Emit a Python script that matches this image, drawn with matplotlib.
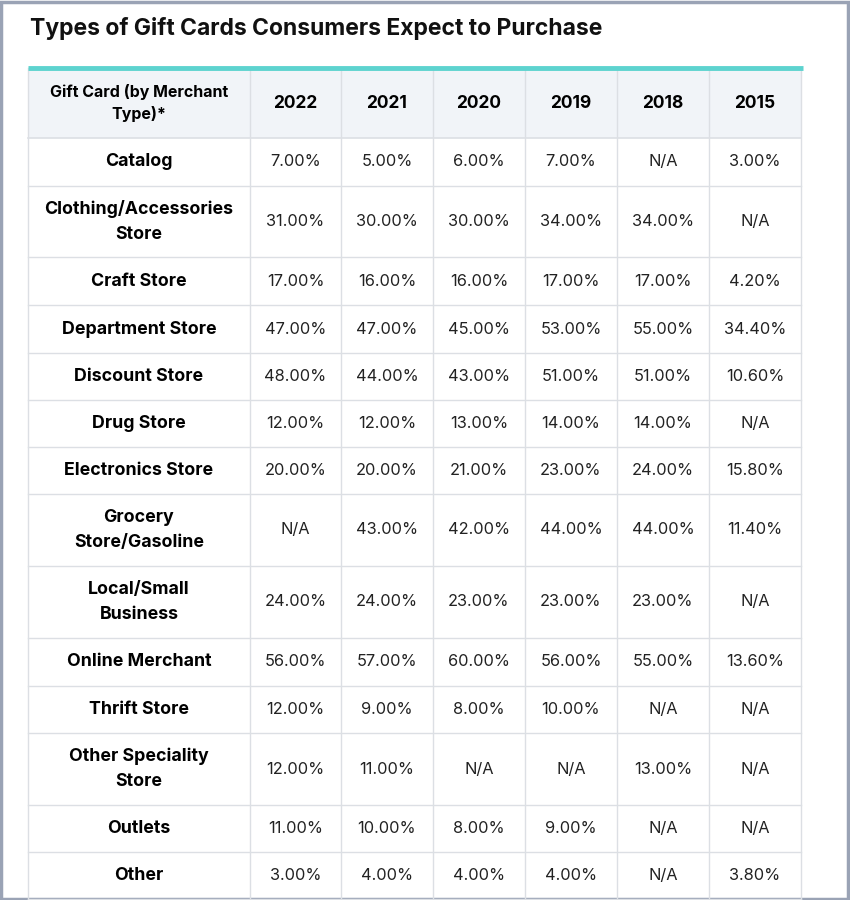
import matplotlib.pyplot as plt
from matplotlib.patches import Rectangle

title = "Types of Gift Cards Consumers Expect to Purchase"
header_first = "Gift Card (by Merchant\nType)*"
years = ["2022", "2021", "2020", "2019", "2018", "2015"]
merchants = ["Catalog", "Clothing/Accessories\nStore", "Craft Store", "Department Store",
             "Discount Store", "Drug Store", "Electronics Store", "Grocery\nStore/Gasoline",
             "Local/Small\nBusiness", "Online Merchant", "Thrift Store",
             "Other Speciality\nStore", "Outlets", "Other"]
values = [
    ["7.00%", "5.00%", "6.00%", "7.00%", "N/A", "3.00%"],
    ["31.00%", "30.00%", "30.00%", "34.00%", "34.00%", "N/A"],
    ["17.00%", "16.00%", "16.00%", "17.00%", "17.00%", "4.20%"],
    ["47.00%", "47.00%", "45.00%", "53.00%", "55.00%", "34.40%"],
    ["48.00%", "44.00%", "43.00%", "51.00%", "51.00%", "10.60%"],
    ["12.00%", "12.00%", "13.00%", "14.00%", "14.00%", "N/A"],
    ["20.00%", "20.00%", "21.00%", "23.00%", "24.00%", "15.80%"],
    ["N/A", "43.00%", "42.00%", "44.00%", "44.00%", "11.40%"],
    ["24.00%", "24.00%", "23.00%", "23.00%", "23.00%", "N/A"],
    ["56.00%", "57.00%", "60.00%", "56.00%", "55.00%", "13.60%"],
    ["12.00%", "9.00%", "8.00%", "10.00%", "N/A", "N/A"],
    ["12.00%", "11.00%", "N/A", "N/A", "13.00%", "N/A"],
    ["11.00%", "10.00%", "8.00%", "9.00%", "N/A", "N/A"],
    ["3.00%", "4.00%", "4.00%", "4.00%", "N/A", "3.80%"],
]

plt.rcParams['font.family'] = ['Inter', 'DejaVu Sans']
W, H = 850, 900
fig = plt.figure(figsize=(W / 100, H / 100), dpi=100)
ax = fig.add_axes([0, 0, 1, 1])
ax.set_xlim(0, W)
ax.set_ylim(H, 0)
ax.axis('off')

# outer frame
ax.add_patch(Rectangle((1.5, 1.5), W - 3, H - 3, fill=False, ec='#9aa3b5', lw=2.5))

ax.text(30, 28, title, fontsize=16.5, fontweight='bold', va='center', ha='left', color='#111111')

col_x = [28, 250, 341, 433, 525, 617, 709, 801]
header_top, header_bot = 68, 138
row_h = [48, 71, 48, 48, 47, 47, 47, 72, 72, 48, 47, 72, 47, 47]
grid = '#dcdfe4'

# header
ax.add_patch(Rectangle((col_x[0], header_top), col_x[-1] - col_x[0], header_bot - header_top,
                       fc='#f1f4f8', ec='none'))
ax.text((col_x[0] + col_x[1]) / 2, 103, header_first, fontsize=11.5, fontweight='bold',
        ha='center', va='center', linespacing=1.45)
for j, y in enumerate(years):
    ax.text((col_x[j + 1] + col_x[j + 2]) / 2, 103, y, fontsize=12.5, fontweight='bold',
            ha='center', va='center')

# body rows
y = header_bot
for i, name in enumerate(merchants):
    h = row_h[i]
    cy = y + h / 2
    ax.text((col_x[0] + col_x[1]) / 2, cy, name, fontsize=12.8, fontweight='bold',
            ha='center', va='center', linespacing=1.6)
    for j, v in enumerate(values[i]):
        ax.text((col_x[j + 1] + col_x[j + 2]) / 2, cy, v, fontsize=11.8,
                ha='center', va='center', color='#222222')
    y += h
    ax.plot([col_x[0], col_x[-1]], [y, y], color=grid, lw=1)

ax.plot([col_x[0], col_x[-1]], [header_bot, header_bot], color=grid, lw=1.2)
for x in col_x:
    ax.plot([x, x], [header_top, H], color=grid, lw=1)
ax.plot([col_x[0], 803], [header_top, header_top], color='#5dd3cf', lw=3.5, solid_capstyle='butt')

fig.savefig("out.png", dpi=100)
